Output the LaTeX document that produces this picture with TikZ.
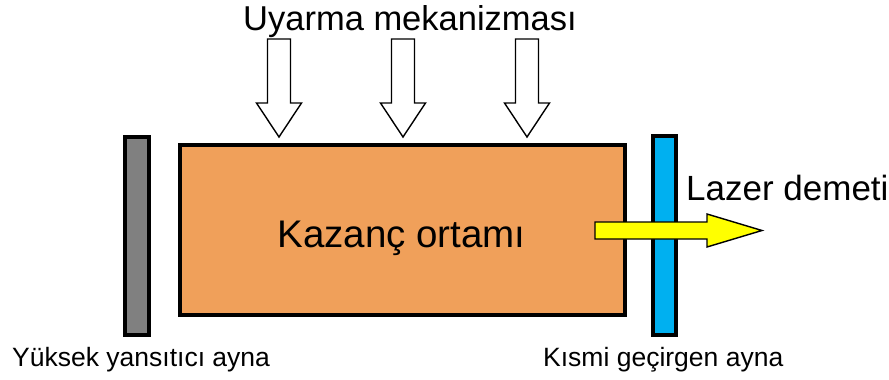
\documentclass[tikz,border=0pt]{standalone}
\usepackage{fontspec}
\setmainfont{Liberation Sans}
\definecolor{gainorange}{RGB}{240,160,90}
\definecolor{mirrorgray}{RGB}{128,128,128}
\definecolor{mirrorblue}{RGB}{0,176,240}
\definecolor{beamyellow}{RGB}{255,255,0}
\tikzset{
  mirror/.style={draw=black, line width=4pt, rectangle, inner sep=0pt},
  medium/.style={draw=black, line width=4pt, rectangle, inner sep=0pt, fill=gainorange},
  bigtext/.style={inner sep=0pt, font=\fontsize{35}{42}\selectfont},
  smalltext/.style={inner sep=0pt, font=\fontsize{26.5}{32}\selectfont},
  pump/.style={draw=black, line width=1.4pt, fill=white, line join=miter},
  beam/.style={draw=black, line width=1.4pt, fill=beamyellow, line join=miter}
}
% hollow pump arrow pointing down, centred on x = #1
\newcommand\pumparrow[1]{%
  \draw[pump] (#1-11.5,39) -- (#1+11.5,39) -- (#1+11.5,103) -- (#1+22.5,103)
    -- (#1,137) -- (#1-22.5,103) -- (#1-11.5,103) -- cycle;}
\begin{document}
\begin{tikzpicture}[x=1pt,y=-1pt]
\useasboundingbox (0,0) rectangle (889,380);

% mirrors and gain medium
\node[mirror, fill=mirrorgray, minimum width=24pt, minimum height=198pt] (hr) at (137,236) {};
\node[medium, minimum width=445pt, minimum height=170pt] (gain) at (402.5,230) {};
\node[mirror, fill=mirrorblue, minimum width=23pt, minimum height=199pt] (oc) at (664.5,235.5) {};

% pump arrows
\pumparrow{279}
\pumparrow{403}
\pumparrow{527}

% output beam
\draw[beam] (595,222) -- (707,222) -- (707,214) -- (762,230.5) -- (707,247)
  -- (707,239) -- (595,239) -- cycle;

% labels
\node[bigtext, font=\fontsize{34.5}{42}\selectfont, anchor=base west] (pumplbl) at (243,30) {Uyarma mekanizması};
\node[bigtext, font=\fontsize{38.5}{46}\selectfont, anchor=base] (gainlbl) at (401.5,247) {Kazanç ortamı};
\node[bigtext, anchor=base west] (beamlbl) at (686,200) {Lazer demeti};
\node[smalltext, anchor=base west] (hrlbl) at (12,366) {Yüksek yansıtıcı ayna};
\node[smalltext, anchor=base west] (oclbl) at (543,366) {Kısmi geçirgen ayna};
\end{tikzpicture}
\end{document}
